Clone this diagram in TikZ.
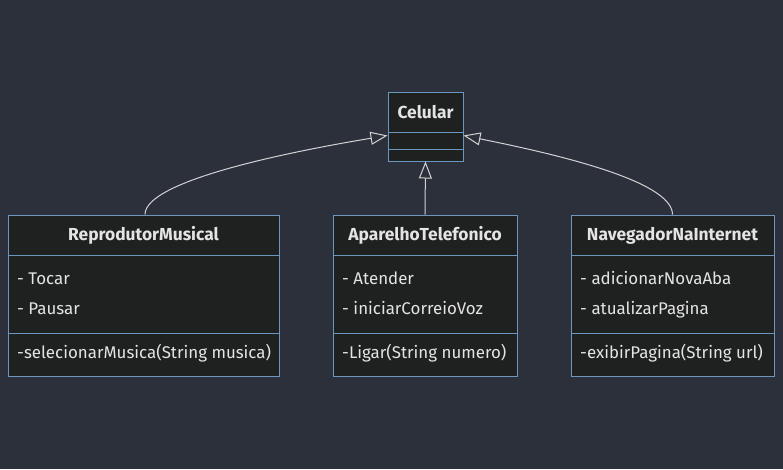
\documentclass[tikz,border=0pt]{standalone}
\usepackage{fontspec}
\setmainfont{Fira Sans}
\usetikzlibrary{arrows.meta}
\definecolor{bg}{HTML}{2B303B}
\definecolor{boxfill}{HTML}{1F2020}
\definecolor{boxborder}{HTML}{6A96C0}
\definecolor{txt}{HTML}{E4E4E4}
\definecolor{edge}{HTML}{D3D3D3}
\tikzset{
  classbox/.style={draw=boxborder, fill=boxfill, line width=1pt, inner sep=0pt, rectangle},
  divider/.style={draw=boxborder, line width=1pt},
  ttl/.style={text=txt, font=\fontsize{17.4}{19}\selectfont\bfseries, inner sep=0pt, anchor=base},
  mem/.style={text=txt, font=\fontsize{16.9}{19}\selectfont, inner sep=0pt, anchor=base west},
  inherit/.style={draw=edge, line width=1pt, -{Triangle[open, length=17pt, width=13pt, line width=1pt]}}
}
\begin{document}
\begin{tikzpicture}[x=1pt, y=-1pt]
\fill[bg] (0,0) rectangle (783,469);
\useasboundingbox (0,0) rectangle (783,469);

% Celular
\node[classbox, minimum width=75pt, minimum height=69pt] (cel) at (425.5,126.5) {};
\draw[divider] (388,132) -- (463,132);
\draw[divider] (388,149) -- (463,149);
\node[ttl] (celt) at (425.5,118) {Celular};

% ReprodutorMusical
\node[classbox, minimum width=271pt, minimum height=161pt] (rep) at (143.5,295.5) {};
\draw[divider] (8,255) -- (279,255);
\draw[divider] (8,333) -- (279,333);
\node[ttl] (rept) at (143.5,240) {ReprodutorMusical};
\node[mem] (repa) at (17,284) {- Tocar};
\node[mem] (repb) at (17,314) {- Pausar};
\node[mem] (repm) at (17,358) {-selecionarMusica(String musica)};

% AparelhoTelefonico
\node[classbox, minimum width=184pt, minimum height=161pt] (apa) at (425,295.5) {};
\draw[divider] (333,255) -- (517,255);
\draw[divider] (333,333) -- (517,333);
\node[ttl] (apat) at (425,240) {AparelhoTelefonico};
\node[mem] (apaa) at (342,284) {- Atender};
\node[mem] (apab) at (342,314) {- iniciarCorreioVoz};
\node[mem] (apam) at (342,358) {-Ligar(String numero)};

% NavegadorNaInternet
\node[classbox, minimum width=203pt, minimum height=161pt] (nav) at (672.5,295.5) {};
\draw[divider] (571,255) -- (774,255);
\draw[divider] (571,333) -- (774,333);
\node[ttl] (navt) at (672.5,240) {NavegadorNaInternet};
\node[mem] (nava) at (580,284) {- adicionarNovaAba};
\node[mem] (navb) at (580,314) {- atualizarPagina};
\node[mem] (navm) at (580,358) {-exibirPagina(String url)};

% connectors
\coordinate (celL) at ([yshift=-9pt]cel.west);
\coordinate (celR) at ([yshift=-9pt]cel.east);
\coordinate (repN) at ([xshift=1.5pt]rep.north);
\draw[inherit] (repN) .. controls ++(0,-35) and (300,150) .. (celL);
\draw[inherit] (apa.north) -- (cel.south);
\draw[inherit] (nav.north) .. controls ++(0,-35) and (545,152) .. (celR);
\end{tikzpicture}
\end{document}
